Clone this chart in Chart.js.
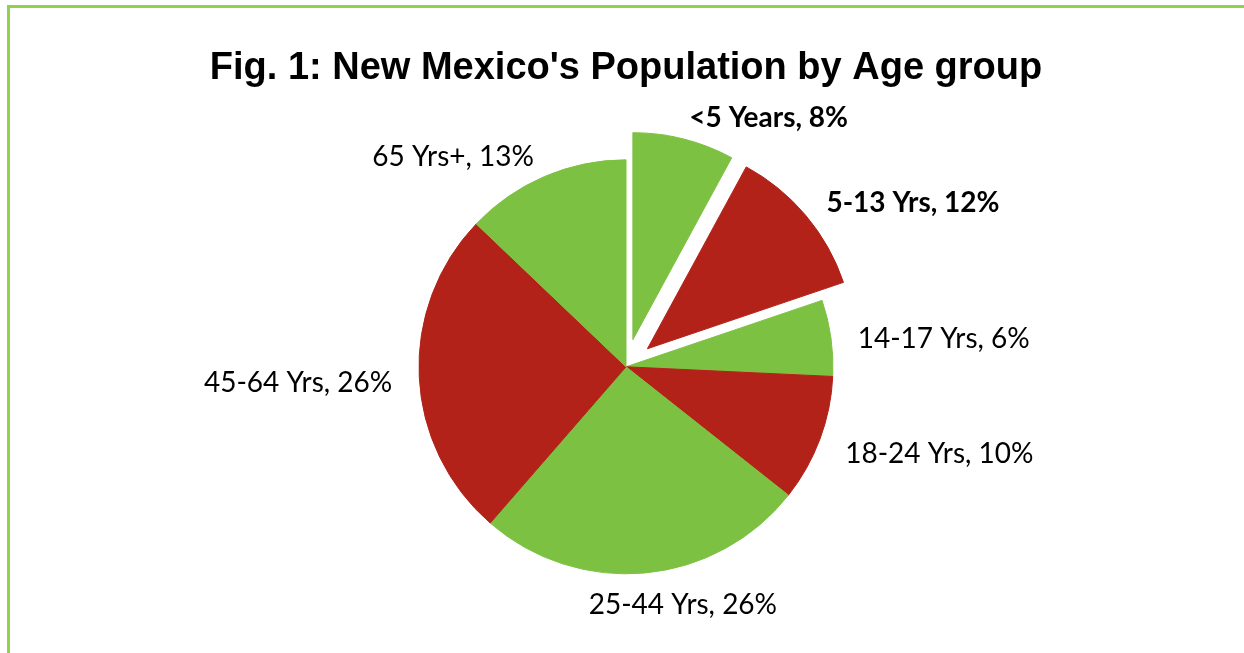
<!DOCTYPE html>
<html>
<head>
<meta charset="utf-8">
<title>New Mexico's Population by Age group</title>
<script src="https://cdn.jsdelivr.net/npm/chart.js@4.4.0/dist/chart.umd.min.js"></script>
<style>
  html, body { margin: 0; padding: 0; background: #fff; overflow: hidden; }
  #frame {
    position: absolute; left: 7px; top: 5px; width: 1300px; height: 700px;
    border-left: 3px solid #92D050; border-top: 3px solid #92D050;
  }
  #wrap { position: absolute; left: 0; top: 0; width: 1244px; height: 653px; }
</style>
</head>
<body>
<div id="frame"></div>
<div id="wrap"><canvas id="ageChart" width="1244" height="653"></canvas></div>
<script>
// age groups and their share of the population (%)
const ageGroups = ['<5 Years', '5-13 Yrs', '14-17 Yrs', '18-24 Yrs', '25-44 Yrs', '45-64 Yrs', '65 Yrs+'];
const sharePct = [8, 12, 6, 10, 26, 26, 13];
// slices pulled out of the pie, labelled in bold
const pulledOut = ['<5 Years', '5-13 Yrs'];

const GREEN = '#7DC142';
const RED = '#B22219';
const sliceColors = ageGroups.map((g, i) => i % 2 === 0 ? GREEN : RED);

const PIE_RADIUS = 207;
const EXPLODE = 28;
const LABEL_GAP = 27;
const LABEL_DROP = 5;
const LABEL_FONT = 'Lato';
const LABEL_SIZE = 28;

// shift the pulled-out slices along their middle angle
const explodePlugin = {
  id: 'explode',
  afterDatasetUpdate(chart, args) {
    args.meta.data.forEach((arc, i) => {
      if (!pulledOut.includes(ageGroups[i])) return;
      const mid = (arc.startAngle + arc.endAngle) / 2;
      arc.x += Math.cos(mid) * EXPLODE;
      arc.y += Math.sin(mid) * EXPLODE;
    });
  }
};

// "Group, N%" labels outside each slice
const sliceLabels = {
  id: 'sliceLabels',
  afterDatasetsDraw(chart) {
    const ctx = chart.ctx;
    const meta = chart.getDatasetMeta(0);
    ctx.save();
    ctx.fillStyle = '#000';
    ctx.textBaseline = 'middle';
    ctx.textAlign = 'center';
    meta.data.forEach((arc, i) => {
      const mid = (arc.startAngle + arc.endAngle) / 2;
      const dx = Math.cos(mid), dy = Math.sin(mid);
      const r = arc.outerRadius + LABEL_GAP;
      const bold = pulledOut.includes(ageGroups[i]);
      ctx.font = (bold ? 'bold ' : '') + LABEL_SIZE + 'px ' + LABEL_FONT;
      const text = ageGroups[i] + ', ' + sharePct[i] + '%';
      const w = ctx.measureText(text).width;
      // slide the box away from the pie, fully to one side when well off-centre
      const shift = Math.max(-0.5, Math.min(0.5, dx * 2)) * w;
      ctx.fillText(text, arc.x + dx * r + shift, arc.y + dy * r + LABEL_DROP);
    });
    ctx.restore();
  }
};

new Chart(document.getElementById('ageChart'), {
  type: 'pie',
  data: {
    labels: ageGroups,
    datasets: [{
      data: sharePct,
      backgroundColor: sliceColors,
      borderColor: sliceColors,
      borderWidth: 1,
      radius: PIE_RADIUS
    }]
  },
  options: {
    responsive: false,
    animation: false,
    events: [],
    layout: { padding: { top: 36, left: 16, right: 8, bottom: 11 } },
    plugins: {
      legend: { display: false },
      tooltip: { enabled: false },
      title: {
        display: true,
        text: "Fig. 1: New Mexico's Population by Age group",
        color: '#000',
        font: { family: 'Liberation Sans', size: 38, weight: 'bold' },
        padding: { top: 10, bottom: 0 }
      }
    }
  },
  plugins: [explodePlugin, sliceLabels]
});
</script>
</body>
</html>
